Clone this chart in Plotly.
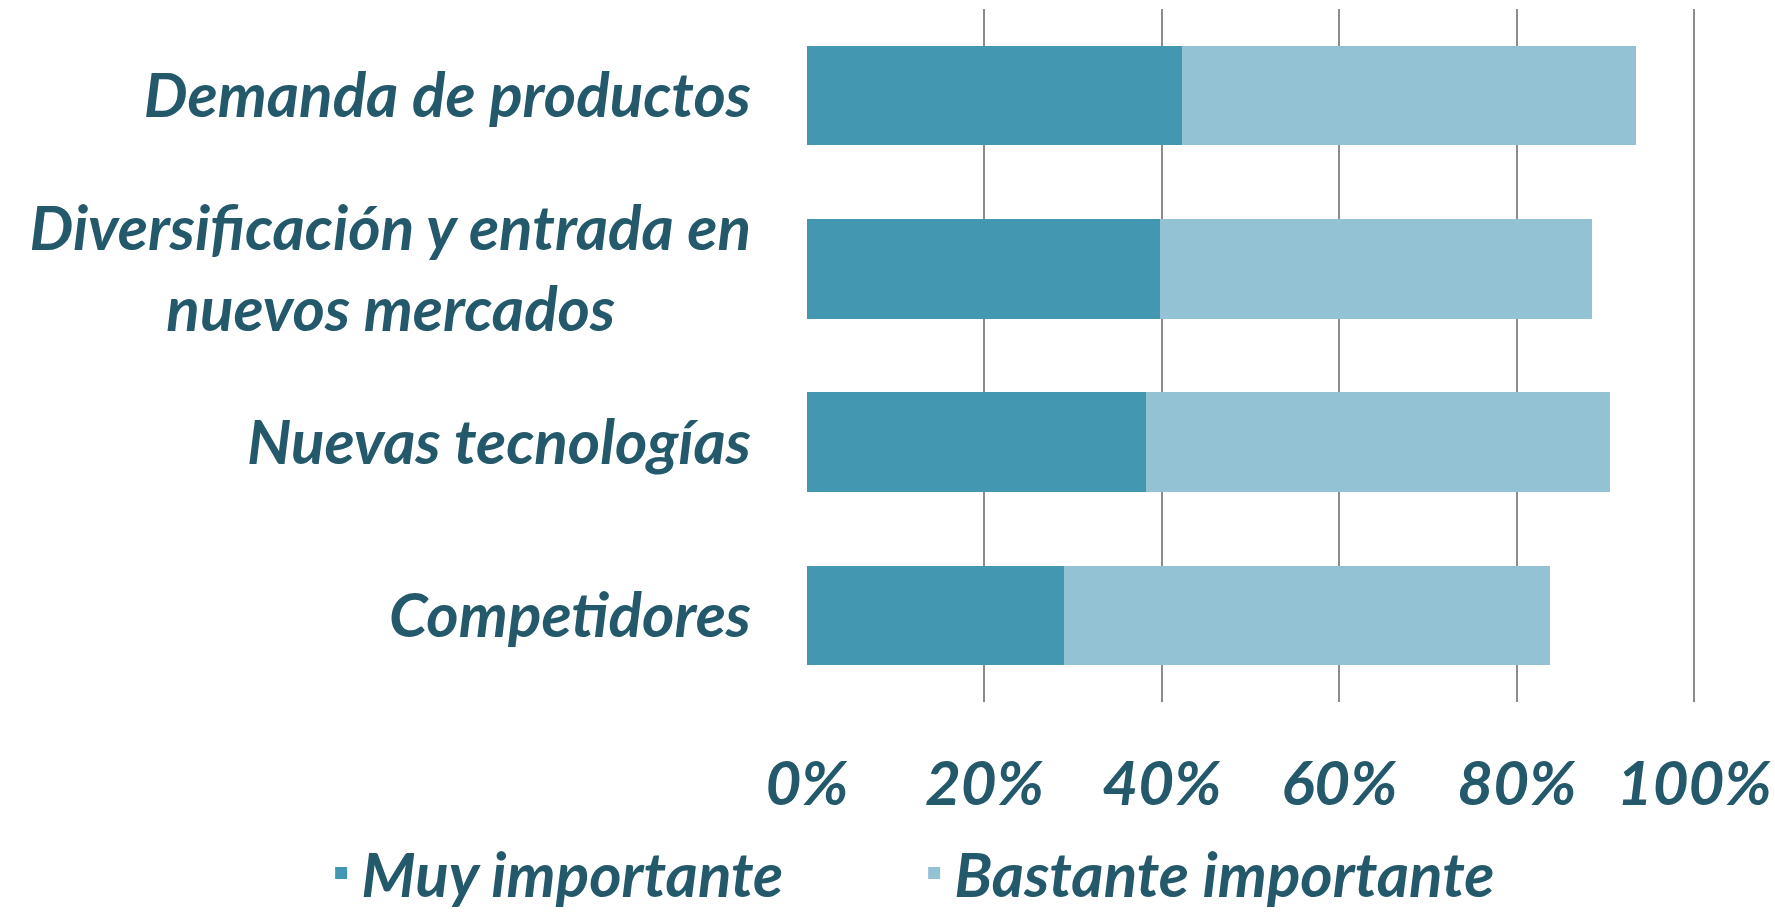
import plotly.graph_objects as go

categories = [
    "Demanda de productos",
    "Diversificación y entrada en<br>nuevos mercados",
    "Nuevas tecnologías",
    "Competidores",
]
muy_importante = [0.423, 0.398, 0.382, 0.290]
bastante_importante = [0.511, 0.487, 0.523, 0.547]
tick_vals = [0, 0.2, 0.4, 0.6, 0.8, 1.0]
tick_text = ["0%", "20%", "40%", "60%", "80%", "100%"]

# pad second line so both lines look centred
labels = list(categories)
labels[1] = categories[1] + "\u00a0" * 10

text_color = "#23596A"
dark = "#4397B0"
light = "#93C2D4"
font = dict(family="Lato, 'Open Sans', sans-serif", size=62, color=text_color,
            weight="bold", style="italic")
legend_font = dict(font, size=62)

fig = go.Figure()
fig.add_trace(go.Bar(y=labels, x=muy_importante, orientation="h",
                     name="Muy importante", marker=dict(color=dark, line=dict(width=0))))
fig.add_trace(go.Bar(y=labels, x=bastante_importante, orientation="h",
                     name="Bastante importante", marker=dict(color=light, line=dict(width=0))))

fig.update_layout(
    barmode="stack",
    bargap=0.425,
    width=1775, height=913,
    margin=dict(l=807, r=79, t=9, b=211, autoexpand=False),
    paper_bgcolor="white", plot_bgcolor="white",
    font=font,
    showlegend=True,
    legend=dict(orientation="h", x=-0.5465, xanchor="left", y=-0.247, yanchor="middle",
                font=legend_font, traceorder="normal", bgcolor="rgba(0,0,0,0)",
                entrywidth=548, entrywidthmode="pixels"),
)
fig.update_xaxes(range=[0, 1.002], tickvals=tick_vals, ticktext=tick_text,
                 showgrid=True, gridcolor="#8C8C8C", gridwidth=1.5,
                 zeroline=False, showline=False, ticks="", automargin=False,
                 ticklabelstandoff=40, tickfont=font)
fig.update_yaxes(autorange="reversed", showgrid=False, zeroline=False, showline=False,
                 ticks="", ticklabelstandoff=55, tickfont=font, automargin=False)

fig.write_html("out.html", post_script="document.body.style.margin='0';",
               config={"displayModeBar": False})
